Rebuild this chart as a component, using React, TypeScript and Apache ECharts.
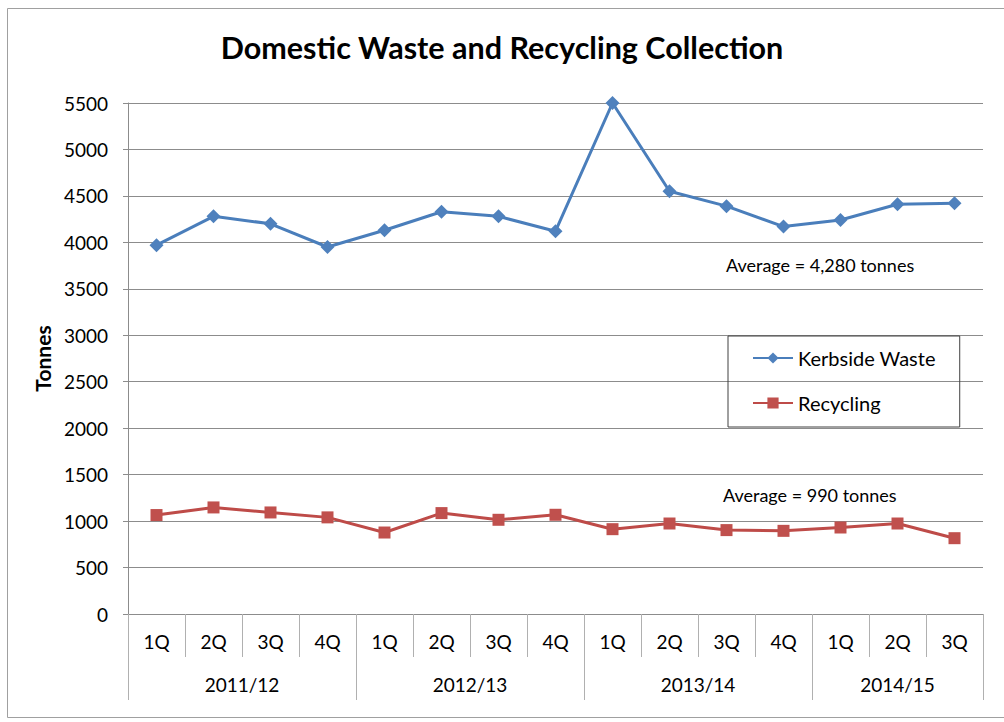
import React, { useEffect, useRef } from "react";
import * as echarts from "echarts";

const quarters = ["1Q", "2Q", "3Q", "4Q", "1Q", "2Q", "3Q", "4Q", "1Q", "2Q", "3Q", "4Q", "1Q", "2Q", "3Q"];
const years = ["2011/12", "2012/13", "2013/14", "2014/15"];
const quartersPerYear = [4, 4, 4, 3];
const kerbsideWaste = [3970, 4280, 4200, 3950, 4130, 4330, 4280, 4120, 5500, 4550, 4390, 4170, 4240, 4410, 4420];
const recycling = [1065, 1147, 1093, 1040, 877, 1086, 1014, 1068, 913, 974, 903, 895, 931, 974, 816];
const yTicks = { min: 0, max: 5500, interval: 500 };
const averageTexts = ["Average = 4,280 tonnes", "Average = 990 tonnes"];

const FONT = "Lato, 'Open Sans', sans-serif";

export default function App() {
  const ref = useRef<HTMLDivElement>(null);
  useEffect(() => {
    if (!ref.current) return;
    const chart = echarts.init(ref.current, undefined, { renderer: "svg" });

    const halfCount = quarters.length * 2;
    const yearAxisData: string[] = new Array(halfCount + 1).fill("");
    const boundaryIdx: number[] = [0];
    let pos = 0;
    years.forEach((y, i) => {
      const n = quartersPerYear[i] * 2;
      yearAxisData[pos + n / 2] = y;
      pos += n;
      boundaryIdx.push(pos);
    });

    chart.setOption({
      animation: false,
      backgroundColor: "#ffffff",
      title: {
        text: "Domestic Waste and Recycling Collection",
        left: "center",
        top: 26,
        textStyle: { fontFamily: FONT, fontSize: 30.5, fontWeight: "bold", color: "#000" },
      },
      grid: { left: 128, right: 21, top: 103, bottom: 108, containLabel: false },
      legend: {
        orient: "vertical",
        left: 728,
        top: 336,
        padding: [12, 24, 14, 24],
        itemGap: 25,
        itemWidth: 40,
        itemHeight: 14,
        borderColor: "#404040",
        borderWidth: 1,
        textStyle: { fontFamily: FONT, fontSize: 20, color: "#000" },
        data: ["Kerbside Waste", "Recycling"],
      },
      xAxis: [
        {
          type: "category",
          data: quarters,
          boundaryGap: true,
          position: "bottom",
          offset: 0,
          axisLine: { show: true, lineStyle: { color: "#8c8c8c", width: 1 } },
          axisTick: { show: true, interval: 0, length: 43, lineStyle: { color: "#b0b0b0" } },
          axisLabel: { interval: 0, margin: 18, fontFamily: FONT, fontSize: 19, color: "#000" },
          splitLine: { show: false },
        },
        {
          type: "category",
          data: yearAxisData,
          boundaryGap: false,
          position: "bottom",
          offset: 0,
          axisLine: { show: false },
          axisTick: {
            show: true,
            length: 86,
            interval: (index: number) => boundaryIdx.indexOf(index) >= 0,
            lineStyle: { color: "#b0b0b0" },
          },
          axisLabel: {
            interval: (_index: number, value: string) => value !== "",
            margin: 61,
            fontFamily: FONT,
            fontSize: 19,
            color: "#000",
          },
          splitLine: { show: false },
        },
      ],
      yAxis: {
        type: "value",
        min: yTicks.min,
        max: yTicks.max,
        interval: yTicks.interval,
        name: "Tonnes",
        nameLocation: "middle",
        nameGap: 72,
        nameTextStyle: { fontFamily: FONT, fontSize: 21, fontWeight: "bold", color: "#000" },
        axisLine: { show: true, lineStyle: { color: "#8c8c8c" } },
        axisTick: { show: true, length: 5, lineStyle: { color: "#8c8c8c" } },
        axisLabel: {
          margin: 20,
          fontFamily: FONT,
          fontSize: 19,
          color: "#000",
          formatter: (v: number) => String(v),
        },
        splitLine: { show: true, lineStyle: { color: "#8c8c8c", width: 1 } },
      },
      series: [
        {
          name: "Kerbside Waste",
          type: "line",
          xAxisIndex: 0,
          data: kerbsideWaste,
          symbol: "diamond",
          symbolSize: 14,
          lineStyle: { color: "#4A7EBB", width: 3 },
          itemStyle: { color: "#4F81BD" },
        },
        {
          name: "Recycling",
          type: "line",
          xAxisIndex: 0,
          data: recycling,
          symbol: "rect",
          symbolSize: 12,
          lineStyle: { color: "#BE4B48", width: 3 },
          itemStyle: { color: "#C0504D" },
        },
      ],
      graphic: [
        {
          type: "rect",
          shape: { x: 7.5, y: 8.5, width: 1010, height: 709 },
          style: { fill: "none", stroke: "#a0a0a0", lineWidth: 1 },
          silent: true,
        },
        {
          type: "text",
          left: 726,
          top: 256,
          style: { text: averageTexts[0], font: `18px ${FONT}`, fill: "#000" },
        },
        {
          type: "text",
          left: 723,
          top: 486,
          style: { text: averageTexts[1], font: `18px ${FONT}`, fill: "#000" },
        },
      ],
    });
    return () => chart.dispose();
  }, []);
  return (
    <div
      ref={ref}
      style={{ position: "fixed", left: 0, top: 0, width: 1004, height: 722 }}
    />
  );
}
